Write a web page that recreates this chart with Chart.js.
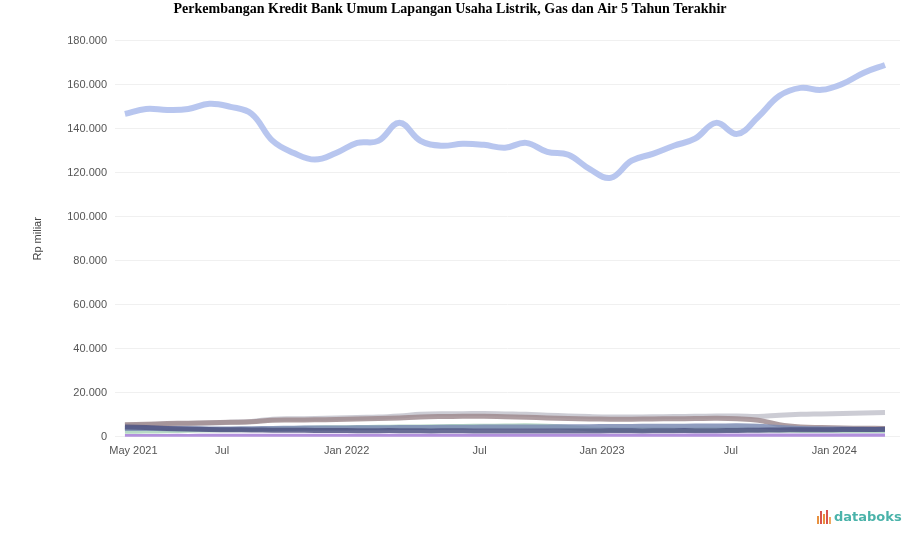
<!DOCTYPE html>
<html>
<head>
<meta charset="utf-8">
<script src="https://cdn.jsdelivr.net/npm/chart.js@4.4.1/dist/chart.umd.min.js"></script>
<style>
  html, body { margin: 0; padding: 0; background: #fff; }
  #wrap { position: relative; width: 917px; height: 547px; }
  #logo { position: absolute; left: 817px; top: 509px; font: bold 13px "DejaVu Sans", sans-serif; color: #4bb3aa; }
  #logo i { display: inline-block; width: 2px; margin-right: 1px; vertical-align: -3px; }
</style>
</head>
<body>
<div id="wrap">
  <canvas id="chart" width="917" height="547"></canvas>
  <div id="logo"><i style="height:8px;background:#e8913f"></i><i style="height:13px;background:#d9534f"></i><i style="height:10px;background:#e8913f"></i><i style="height:14px;background:#d9534f"></i><i style="height:7px;background:#f0a860;margin-right:3px"></i>databoks</div>
</div>
<script>
// x axis tick labels and where they sit (in month index units)
var tickLabels = ['May 2021', 'Jul', 'Jan 2022', 'Jul', 'Jan 2023', 'Jul', 'Jan 2024'];
var tickSpots = [0.4, 4.6, 10.5, 16.8, 22.6, 28.7, 33.6];

// credit values, Rp miliar
var listrik = [146800,149000,148600,149000,151400,150000,146800,134500,129000,126000,129000,133600,134500,142700,134500,132300,133200,132700,131400,133600,129500,128200,121800,117700,125500,128600,132300,135500,142700,137700,145500,155000,158600,157700,160500,165500,169000];
var subGray = [5200,5500,5800,6000,6300,6600,7000,8000,8200,8300,8500,8800,9000,9500,10200,10500,10500,10600,10400,10200,9800,9500,9200,9000,9000,9100,9200,9300,9400,9500,9200,9800,10200,10400,10600,10800,11000];
var subMauve = [5500,5700,6000,6200,6400,6600,6800,7500,7600,7700,7900,8100,8300,8600,9000,9200,9300,9300,9100,8900,8600,8300,8100,8000,8000,8100,8200,8300,8400,8200,7500,5500,4500,4200,4000,3900,3800];
var subMint = [2500,2600,2800,3000,3100,3200,3300,3600,3800,4000,4100,4200,4300,4400,4500,4600,4700,4800,4900,5000,4800,4200,3600,3300,3200,3200,3100,3100,3200,3200,3100,3000,2900,2900,2800,2800,2700];
var subSlate = [3800,3800,3700,3700,3600,3600,3700,3800,3900,4000,4000,4100,4100,4200,4200,4300,4300,4400,4400,4500,4500,4600,4600,4700,4700,4800,4800,4900,4900,5000,4800,4200,3800,3600,3500,3400,3300];
var subNavy = [4500,4200,3800,3500,3300,3200,3100,3000,3000,2900,2900,2800,2800,2800,2700,2700,2700,2600,2600,2600,2600,2600,2600,2700,2700,2700,2800,2800,2800,2900,3000,3100,3200,3200,3300,3300,3400];
var subPurple = [400,400,420,420,430,430,440,450,450,460,460,470,470,480,480,490,490,500,500,500,510,510,520,520,520,530,530,540,540,550,550,560,560,570,570,580,580];

function pts(arr) {
  return arr.map(function(v, i) { return {x: i, y: v}; });
}

function ds(arr, color, width) {
  return {
    data: pts(arr),
    borderColor: color,
    borderWidth: width,
    pointRadius: 0,
    tension: 0.4,
    fill: false
  };
}

var ctx = document.getElementById('chart').getContext('2d');
new Chart(ctx, {
  type: 'line',
  data: {
    datasets: [
      ds(subPurple, 'rgba(165,125,215,0.85)', 4),
      ds(subNavy, 'rgba(80,85,130,0.85)', 5),
      ds(subSlate, 'rgba(125,140,180,0.85)', 5),
      ds(subMint, 'rgba(170,212,188,0.85)', 5),
      ds(subMauve, 'rgba(160,140,145,0.85)', 5),
      ds(subGray, 'rgba(195,195,205,0.85)', 5),
      ds(listrik, 'rgba(172,188,236,0.85)', 6)
    ]
  },
  options: {
    responsive: false,
    animation: false,
    layout: { padding: { left: 0, right: 17, top: 0, bottom: 89 } },
    plugins: {
      legend: { display: false },
      tooltip: { enabled: false },
      title: {
        display: true,
        text: 'Perkembangan Kredit Bank Umum Lapangan Usaha Listrik, Gas dan Air 5 Tahun Terakhir',
        color: '#000',
        font: { family: '"Liberation Serif", serif', size: 14, weight: 'bold' },
        padding: { top: 1, bottom: 23 }
      }
    },
    scales: {
      x: {
        type: 'linear',
        min: -0.47,
        max: 36.71,
        grid: { display: false },
        border: { display: false },
        afterBuildTicks: function(scale) {
          scale.ticks = tickSpots.map(function(v) { return {value: v}; });
        },
        ticks: {
          autoSkip: false,
          maxRotation: 0,
          padding: 0,
          color: '#555',
          font: { family: '"Liberation Sans", sans-serif', size: 11 },
          callback: function(value, index) { return tickLabels[index]; }
        }
      },
      y: {
        min: 0,
        max: 180000,
        afterFit: function(scale) { scale.width = 115; },
        grid: { color: '#f0f0f0', drawTicks: false },
        border: { display: false },
        ticks: {
          stepSize: 20000,
          padding: 8,
          color: '#555',
          font: { family: '"Liberation Sans", sans-serif', size: 11 },
          callback: function(v) { return v.toLocaleString('de-DE'); }
        },
        title: {
          display: true,
          text: 'Rp miliar',
          color: '#444',
          font: { family: '"Liberation Sans", sans-serif', size: 11 },
          padding: { top: 31, bottom: 0 }
        }
      }
    }
  }
});
</script>
</body>
</html>
